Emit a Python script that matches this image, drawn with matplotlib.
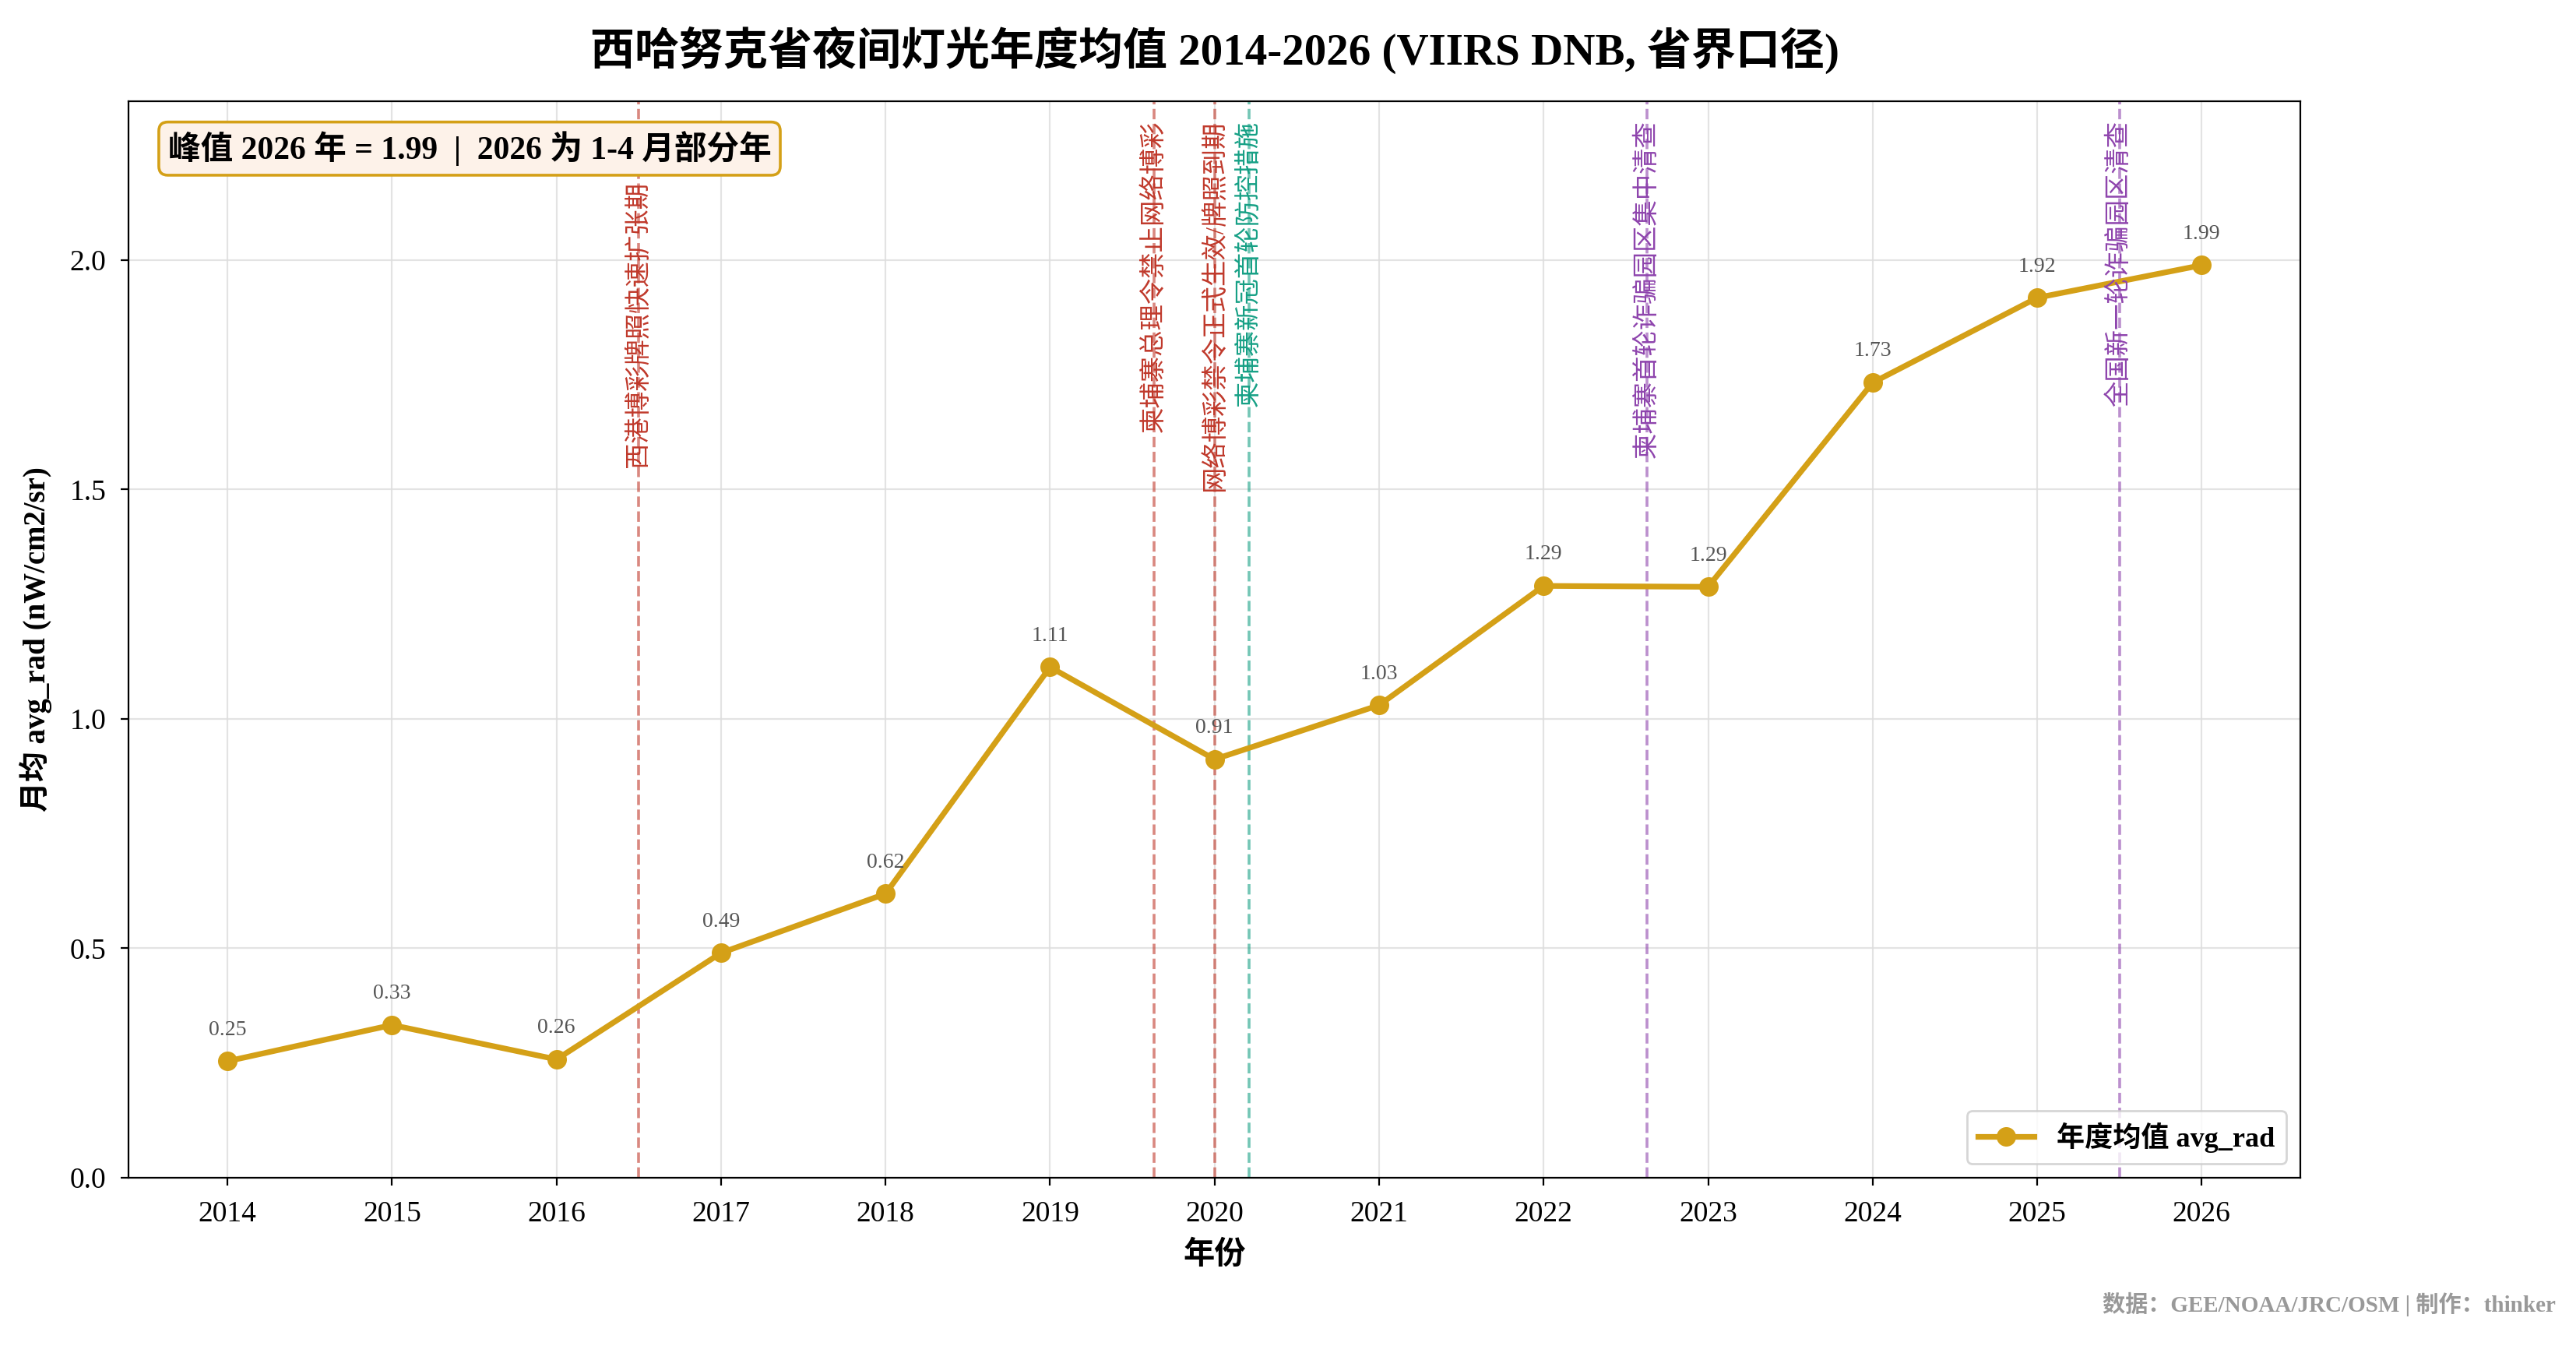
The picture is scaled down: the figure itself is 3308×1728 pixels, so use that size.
import matplotlib
matplotlib.use("Agg")
import matplotlib.pyplot as plt
import numpy as np

plt.rcParams['font.family'] = ['Liberation Serif', 'Noto Sans CJK SC', 'DejaVu Sans']
plt.rcParams['axes.unicode_minus'] = False

# 数据
years = [2014, 2015, 2016, 2017, 2018, 2019, 2020, 2021, 2022, 2023, 2024, 2025, 2026]
avg_rad = [0.254, 0.333, 0.258, 0.49, 0.619, 1.113, 0.912, 1.03, 1.29, 1.288, 1.733, 1.918, 1.989]

# 事件
event_x = [2016.5, 2019.63, 2020.0, 2020.21, 2022.63, 2025.5]
event_text = ["西港博彩牌照快速扩张期", "柬埔寨总理令禁止网络博彩", "网络博彩禁令正式生效/牌照到期",
              "柬埔寨新冠首轮防控措施", "柬埔寨首轮诈骗园区集中清查", "全国新一轮诈骗园区清查"]
event_color = ["#c0392b", "#c0392b", "#c0392b", "#16a085", "#8e44ad", "#8e44ad"]

fig, ax = plt.subplots(figsize=(16.54, 8.64), dpi=200)
fig.subplots_adjust(left=0.05, right=0.893, top=0.925, bottom=0.125)

ax.plot(years, avg_rad, color='#d4a017', lw=2.6, marker='o', markersize=8, label='年度均值 avg_rad', zorder=3)
for x, y in zip(years, avg_rad):
    ax.annotate(f"{y:.2f}", xy=(x, y), xytext=(0, 10), textcoords='offset points',
                ha='center', va='bottom', fontsize=10, color='#555555')

for i, (x, t, c) in enumerate(zip(event_x, event_text, event_color)):
    ax.axvline(x, color=c, ls='--', lw=1.3, alpha=0.6, zorder=1)
    # 第一条注释放在信息框下方
    ty = 0.925 if i == 0 else 0.982
    ax.text(x, ty, t, transform=ax.get_xaxis_transform(), rotation=90,
            ha='center', va='top', fontsize=12, color=c)

ax.set_xlim(2013.4, 2026.6)
ax.set_ylim(0, 2.347)
ax.set_xticks(years)
ax.set_yticks([0, 0.5, 1.0, 1.5, 2.0])
ax.tick_params(labelsize=13.5, pad=7)
ax.grid(True, color='#dddddd', lw=0.8, alpha=0.8)
ax.set_axisbelow(True)

ax.set_xlabel("年份", fontsize=14.5, fontweight='bold', labelpad=6)
ax.set_ylabel("月均 avg_rad (nW/cm2/sr)", fontsize=14, fontweight='bold', labelpad=8)
ax.set_title("西哈努克省夜间灯光年度均值 2014-2026 (VIIRS DNB, 省界口径)",
             fontsize=20.5, fontweight='bold', pad=17)

ax.text(0.018, 0.972, "峰值 2026 年 = 1.99  |  2026 为 1-4 月部分年", transform=ax.transAxes,
        ha='left', va='top', fontsize=15, fontweight='bold', zorder=6,
        bbox=dict(boxstyle='round,pad=0.28', facecolor='#fdf2e9', edgecolor='#d4a017', lw=1.3))

ax.legend(loc='lower right', prop={'weight': 'bold', 'size': 13})

fig.text(0.992, 0.022, "数据：GEE/NOAA/JRC/OSM | 制作：thinker", ha='right', va='bottom',
         fontsize=10.5, color='#999999', fontweight='bold')

fig.savefig("out.png", dpi=200)
